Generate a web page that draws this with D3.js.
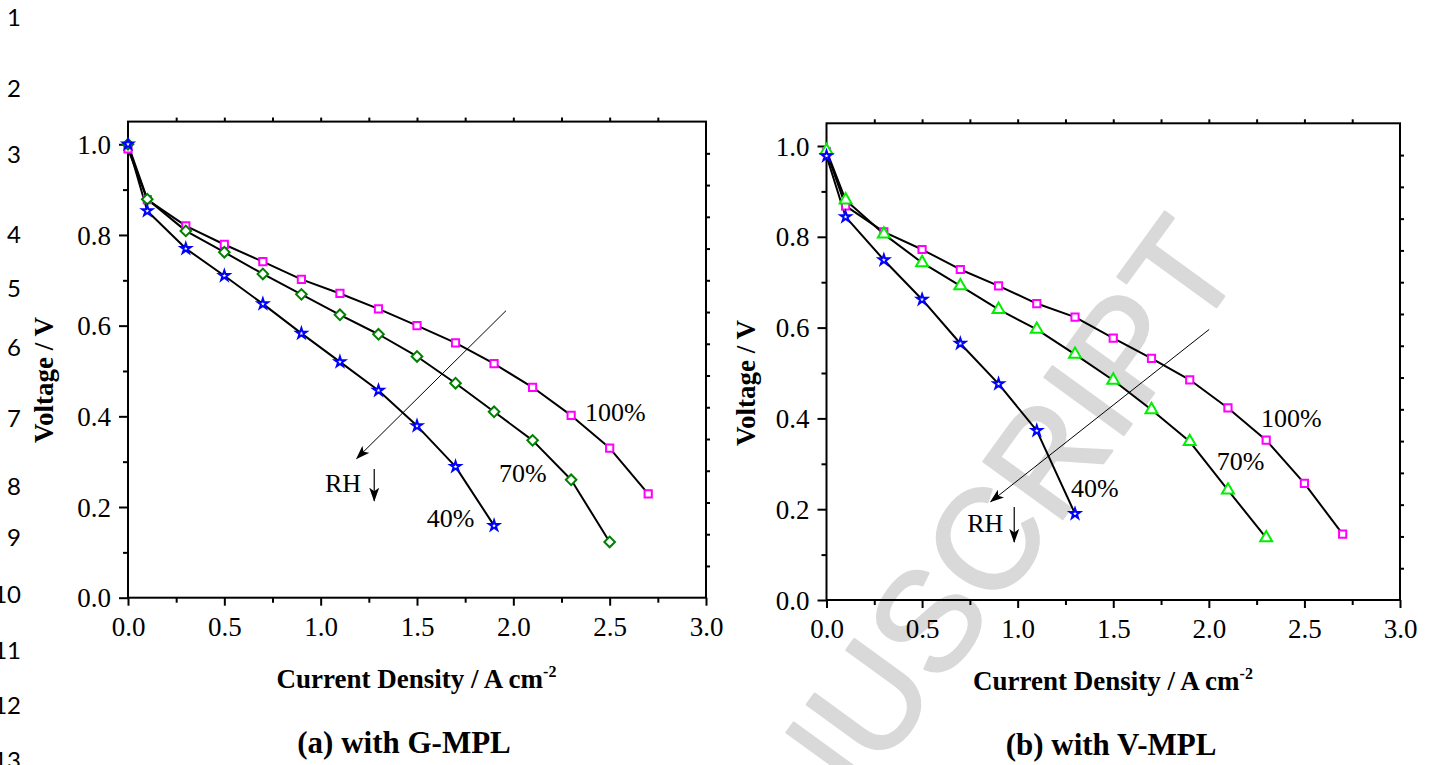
<!DOCTYPE html>
<html>
<head>
<meta charset="utf-8">
<script src="https://cdn.jsdelivr.net/npm/d3@7"></script>
<style>
  body { margin: 0; background: #fff; }
  svg { display: block; }
</style>
</head>
<body>
<svg id="chart" width="1434" height="765"></svg>
<script>
// Polarization curves: current density (A cm^-2) vs. cell voltage (V) at three RH levels.

// (a) with G-MPL
const currentA100 = [0, 0.1, 0.3, 0.5, 0.7, 0.9, 1.1, 1.3, 1.5, 1.7, 1.9, 2.1, 2.3, 2.5, 2.7];
const voltageA100 = [0.990, 0.878, 0.820, 0.779, 0.741, 0.702, 0.671, 0.637, 0.600, 0.562, 0.516, 0.464, 0.402, 0.330, 0.229];
const currentA70  = [0, 0.1, 0.3, 0.5, 0.7, 0.9, 1.1, 1.3, 1.5, 1.7, 1.9, 2.1, 2.3, 2.5];
const voltageA70  = [1.000, 0.879, 0.809, 0.762, 0.714, 0.669, 0.624, 0.581, 0.532, 0.473, 0.410, 0.347, 0.260, 0.123];
const currentA40  = [0, 0.1, 0.3, 0.5, 0.7, 0.9, 1.1, 1.3, 1.5, 1.7, 1.9];
const voltageA40  = [1.000, 0.853, 0.770, 0.710, 0.648, 0.583, 0.520, 0.457, 0.379, 0.289, 0.159];

// (b) with V-MPL
const currentB100 = [0, 0.1, 0.3, 0.5, 0.7, 0.9, 1.1, 1.3, 1.5, 1.7, 1.9, 2.1, 2.3, 2.5, 2.7];
const voltageB100 = [0.987, 0.868, 0.811, 0.772, 0.728, 0.692, 0.653, 0.623, 0.577, 0.532, 0.485, 0.423, 0.352, 0.257, 0.145];
const currentB70  = [0, 0.1, 0.3, 0.5, 0.7, 0.9, 1.1, 1.3, 1.5, 1.7, 1.9, 2.1, 2.3];
const voltageB70  = [0.990, 0.881, 0.806, 0.743, 0.692, 0.640, 0.596, 0.541, 0.484, 0.419, 0.349, 0.242, 0.137];
const currentB40  = [0, 0.1, 0.3, 0.5, 0.7, 0.9, 1.1, 1.3];
const voltageB40  = [0.978, 0.844, 0.749, 0.662, 0.565, 0.476, 0.373, 0.190];

// Axis ticks
const xMajorTicks = [0, 0.5, 1.0, 1.5, 2.0, 2.5, 3.0];
const xMinorTicks = [0.25, 0.75, 1.25, 1.75, 2.25, 2.75];
const yMajorTicks = [0, 0.2, 0.4, 0.6, 0.8, 1.0];
const yMinorTicks = [0.1, 0.3, 0.5, 0.7, 0.9];
const xDomain = [0, 3];
const yDomain = [0, 1.05];

// Curve labels and RH trend arrows, in data units
const rhLabels = ["100%", "70%", "40%"];
const labelPosA = [[2.372, 0.390], [1.926, 0.256], [1.550, 0.157]];
const labelPosB = [[2.273, 0.382], [2.041, 0.286], [1.279, 0.2275]];
const trendArrowA = [[1.962, 0.633], [1.187, 0.307]];
const trendArrowB = [[2.002, 0.596], [0.859, 0.2165]];
const rhTextA = [1.022, 0.234];
const rhTextB = [0.7365, 0.150];
const rhDownA = [[1.278, 0.284], [1.278, 0.214]];
const rhDownB = [[0.982, 0.205], [0.982, 0.128]];

const zip = (xs, ys) => xs.map((v, i) => [v, ys[i]]);

const SERIF = "'Liberation Serif', 'Times New Roman', Times, serif";
const svg = d3.select("#chart");

svg.append("rect").attr("width", 1434).attr("height", 765).attr("fill", "#fff");

// Watermark sits beneath everything
svg.append("text")
  .attr("transform", "translate(694,1026) rotate(-54)")
  .attr("font-family", "'Liberation Sans', Arial, sans-serif")
  .attr("font-size", 142)
  .attr("fill", "#d9d9d9")
  .attr("stroke", "#d9d9d9")
  .attr("stroke-width", 2.5)
  .attr("stroke-linejoin", "round")
  .text("MANUSCRIPT");

// Line numbering down the left margin
const lineNumberY = [17, 88, 154, 234, 288, 347, 418, 486, 537, 594, 650, 705, 760];
svg.append("g")
  .attr("font-family", "Lato, 'Open Sans', sans-serif")
  .attr("font-size", 24)
  .attr("fill", "#000")
  .selectAll("text")
  .data(lineNumberY)
  .join("text")
  .attr("x", 21)
  .attr("y", d => d)
  .attr("dy", "0.36em")
  .attr("text-anchor", "end")
  .text((d, i) => i + 1);

// Arrowhead definition
svg.append("defs").append("marker")
  .attr("id", "arrowhead")
  .attr("viewBox", "0 0 14 10")
  .attr("refX", 13)
  .attr("refY", 5)
  .attr("markerWidth", 14)
  .attr("markerHeight", 10)
  .attr("markerUnits", "userSpaceOnUse")
  .attr("orient", "auto")
  .append("path")
  .attr("d", "M0,0 L14,5 L0,10 L3.5,5 Z")
  .attr("fill", "#000");

const symSquare = d3.symbol(d3.symbolSquare, 52);
const symDiamond = d3.symbol(d3.symbolSquare, 56);
const symTriangle = d3.symbol(d3.symbolTriangle, 62);
const symStar = d3.symbol(d3.symbolStar, 32);

const panels = [
  {
    box: { left: 128, right: 706, top: 121.6, bottom: 597.7 },
    series: [
      { pts: zip(currentA100, voltageA100), color: "#ff00ff", sym: symSquare, rot: 0 },
      { pts: zip(currentA70, voltageA70), color: "#008000", sym: symDiamond, rot: 45 },
      { pts: zip(currentA40, voltageA40), color: "#0000ff", sym: symStar, rot: 0 }
    ],
    labels: labelPosA, trend: trendArrowA, rhText: rhTextA, rhDown: rhDownA,
    yTitleX: 53, yTitleY: 380,
    xTitleX: 416.5, xTitleY: 688,
    caption: "(a) with G-MPL", captionX: 404, captionY: 753
  },
  {
    box: { left: 826.5, right: 1400, top: 123.3, bottom: 600 },
    series: [
      { pts: zip(currentB100, voltageB100), color: "#ff00ff", sym: symSquare, rot: 0 },
      { pts: zip(currentB70, voltageB70), color: "#00ee00", sym: symTriangle, rot: 0 },
      { pts: zip(currentB40, voltageB40), color: "#0000ff", sym: symStar, rot: 0 }
    ],
    labels: labelPosB, trend: trendArrowB, rhText: rhTextB, rhDown: rhDownB,
    yTitleX: 755, yTitleY: 383,
    xTitleX: 1113, xTitleY: 690,
    caption: "(b) with V-MPL", captionX: 1111, captionY: 755
  }
];

function drawPanel(p) {
  const b = p.box;
  const x = d3.scaleLinear().domain(xDomain).range([b.left, b.right]);
  const y = d3.scaleLinear().domain(yDomain).range([b.bottom, b.top]);
  const g = svg.append("g");

  const styleAxis = sel => {
    sel.attr("font-family", SERIF).attr("font-size", 27);
    sel.select(".domain").remove();
    sel.selectAll(".tick line").attr("stroke", "#000").attr("stroke-width", 2);
    sel.selectAll(".tick text").attr("fill", "#000");
  };

  // Bottom axis: major with labels, minor without
  g.append("g")
    .attr("transform", `translate(0,${b.bottom})`)
    .call(d3.axisBottom(x).tickValues(xMajorTicks).tickFormat(d3.format(".1f"))
      .tickSize(8).tickPadding(11).tickSizeOuter(0))
    .call(styleAxis);
  g.append("g")
    .attr("transform", `translate(0,${b.bottom})`)
    .call(d3.axisBottom(x).tickValues(xMinorTicks).tickFormat("").tickSize(5).tickSizeOuter(0))
    .call(styleAxis);

  // Left axis
  g.append("g")
    .attr("transform", `translate(${b.left},0)`)
    .call(d3.axisLeft(y).tickValues(yMajorTicks).tickFormat(d3.format(".1f"))
      .tickSize(9).tickPadding(8).tickSizeOuter(0))
    .call(styleAxis)
    .selectAll(".tick text").attr("dy", "0.34em");
  g.append("g")
    .attr("transform", `translate(${b.left},0)`)
    .call(d3.axisLeft(y).tickValues(yMinorTicks).tickFormat("").tickSize(5).tickSizeOuter(0))
    .call(styleAxis);

  // Top axis: small outward ticks every 0.25
  g.append("g")
    .attr("transform", `translate(0,${b.top})`)
    .call(d3.axisTop(x).tickValues(xMinorTicks.concat([0.5, 1.0, 1.5, 2.0, 2.5])).tickFormat("").tickSize(4).tickSizeOuter(0))
    .call(styleAxis);

  // Right axis: small outward ticks, 15 equal divisions
  const yRight = d3.scaleLinear().domain([0, 15]).range([b.bottom, b.top]);
  g.append("g")
    .attr("transform", `translate(${b.right},0)`)
    .call(d3.axisRight(yRight).tickValues(d3.range(1, 15)).tickFormat("").tickSize(4).tickSizeOuter(0))
    .call(styleAxis);

  // Frame
  g.append("rect")
    .attr("x", b.left).attr("y", b.top)
    .attr("width", b.right - b.left).attr("height", b.bottom - b.top)
    .attr("fill", "none").attr("stroke", "#000").attr("stroke-width", 2);

  // Curves
  const line = d3.line().x(d => x(d[0])).y(d => y(d[1]));
  p.series.forEach(s => {
    g.append("path")
      .attr("d", line(s.pts))
      .attr("fill", "none")
      .attr("stroke", "#000")
      .attr("stroke-width", 2)
      .attr("stroke-linejoin", "round");
  });
  p.series.forEach(s => {
    g.append("g").selectAll("path")
      .data(s.pts)
      .join("path")
      .attr("d", s.sym)
      .attr("transform", d => `translate(${x(d[0])},${y(d[1])}) rotate(${s.rot})`)
      .attr("fill", "#fff")
      .attr("stroke", s.color)
      .attr("stroke-width", 2);
  });

  // RH labels on the curves
  g.append("g")
    .attr("font-family", SERIF).attr("font-size", 26).attr("fill", "#000")
    .selectAll("text")
    .data(p.labels)
    .join("text")
    .attr("x", d => x(d[0]))
    .attr("y", d => y(d[1]))
    .text((d, i) => rhLabels[i]);

  // Trend arrow across curves
  g.append("line")
    .attr("x1", x(p.trend[0][0])).attr("y1", y(p.trend[0][1]))
    .attr("x2", x(p.trend[1][0])).attr("y2", y(p.trend[1][1]))
    .attr("stroke", "#000").attr("stroke-width", 1)
    .attr("marker-end", "url(#arrowhead)");

  // "RH ↓"
  g.append("text")
    .attr("x", x(p.rhText[0])).attr("y", y(p.rhText[1]))
    .attr("font-family", SERIF).attr("font-size", 26).attr("fill", "#000")
    .text("RH");
  g.append("line")
    .attr("x1", x(p.rhDown[0][0])).attr("y1", y(p.rhDown[0][1]))
    .attr("x2", x(p.rhDown[1][0])).attr("y2", y(p.rhDown[1][1]))
    .attr("stroke", "#000").attr("stroke-width", 1.2)
    .attr("marker-end", "url(#arrowhead)");

  // Axis titles
  g.append("text")
    .attr("transform", `translate(${p.yTitleX},${p.yTitleY}) rotate(-90)`)
    .attr("text-anchor", "middle")
    .attr("font-family", SERIF).attr("font-size", 27).attr("font-weight", "bold")
    .text("Voltage / V");

  const xt = g.append("text")
    .attr("x", p.xTitleX).attr("y", p.xTitleY)
    .attr("text-anchor", "middle")
    .attr("font-family", SERIF).attr("font-size", 27).attr("font-weight", "bold");
  xt.append("tspan").text("Current Density / A cm");
  xt.append("tspan").attr("font-size", 16).attr("dy", -11).text("-2");

  // Caption
  g.append("text")
    .attr("x", p.captionX).attr("y", p.captionY)
    .attr("text-anchor", "middle")
    .attr("font-family", SERIF).attr("font-size", 31).attr("font-weight", "bold")
    .text(p.caption);
}

panels.forEach(drawPanel);
</script>
</body>
</html>
